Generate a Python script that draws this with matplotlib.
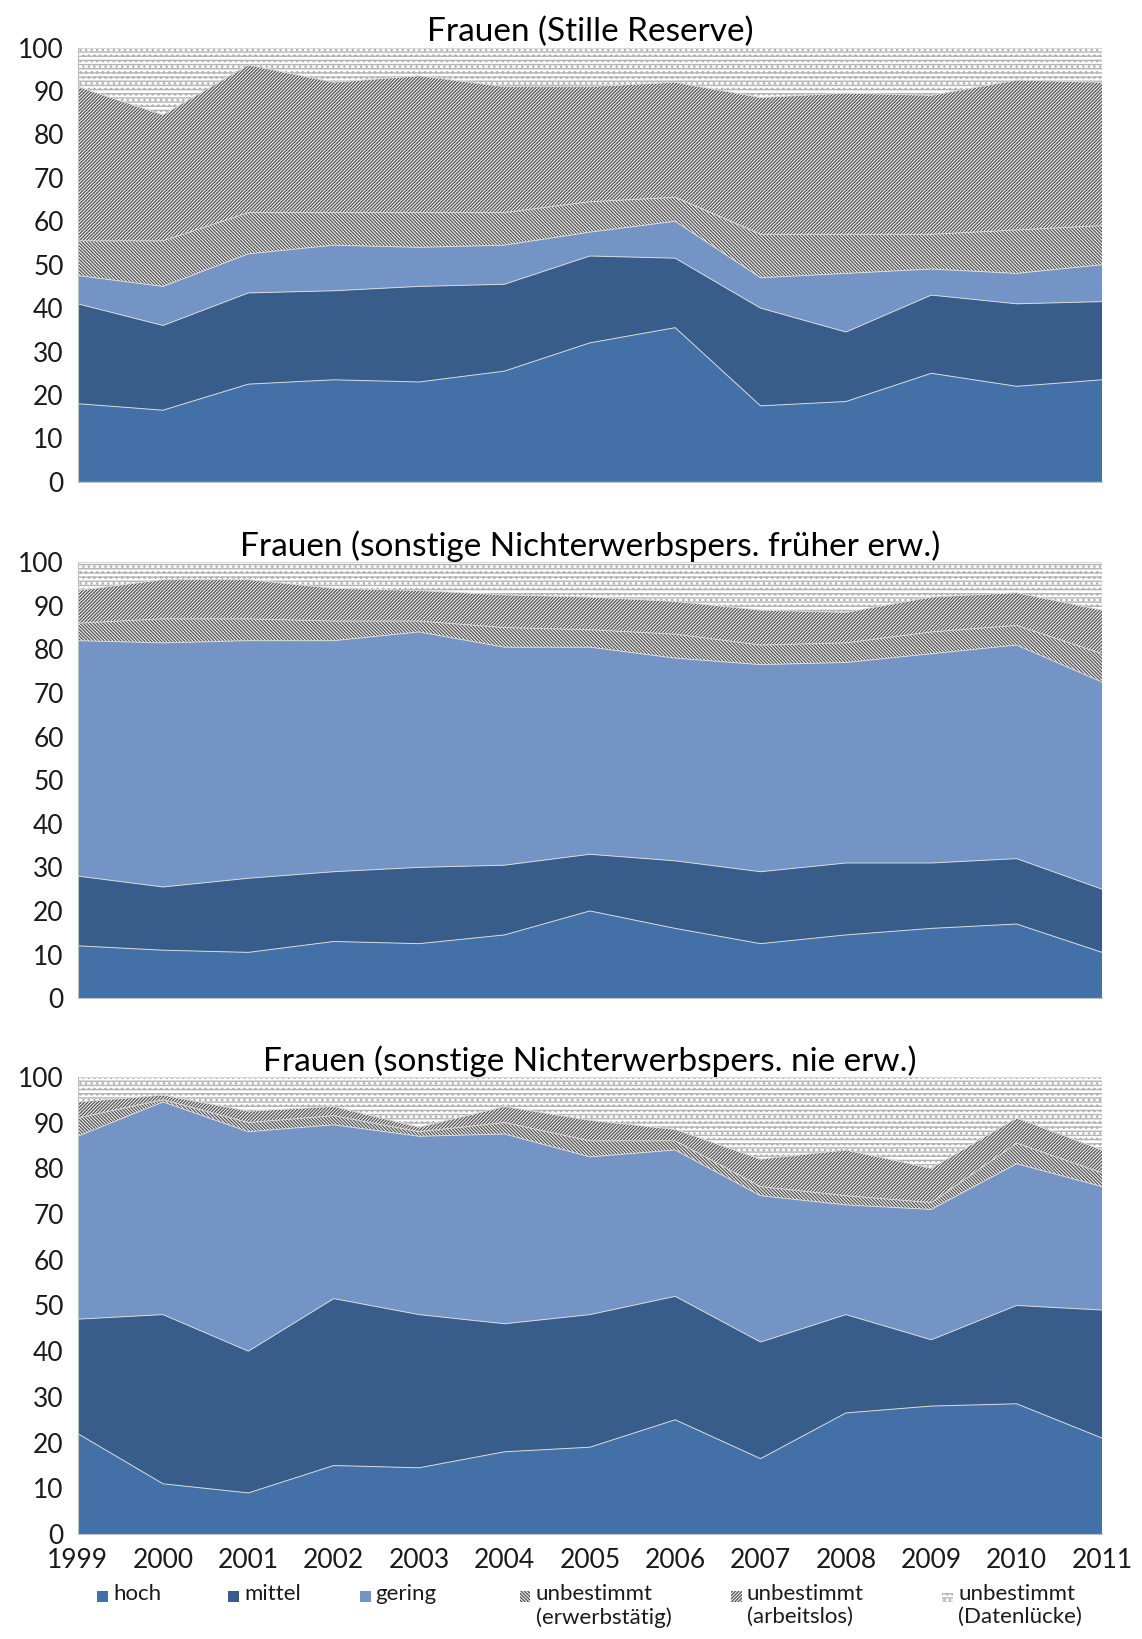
import numpy as np
import matplotlib
matplotlib.use("Agg")
import matplotlib.pyplot as plt
from matplotlib.patches import Rectangle

plt.rcParams['font.family'] = ['Lato', 'DejaVu Sans']
plt.rcParams['hatch.linewidth'] = 1.0

years = list(range(1999, 2012))

labels = ['hoch', 'mittel', 'gering', 'unbestimmt\n(erwerbstätig)',
          'unbestimmt\n(arbeitslos)', 'unbestimmt\n(Datenlücke)']

# Stille Reserve
sr_hoch = [18, 16.5, 22.5, 23.5, 23, 25.5, 32, 35.5, 17.5, 18.5, 25, 22, 23.5]
sr_mittel = [23, 19.5, 21, 20.5, 22, 20, 20, 16, 22.5, 16, 18, 19, 18]
sr_gering = [6.5, 9, 9, 10.5, 9, 9, 5.5, 8.5, 7, 13.5, 6, 7, 8.5]
sr_erwerb = [8, 10.5, 9.5, 7.5, 8, 7.5, 7, 5.5, 10, 9, 8, 10, 9]
sr_arblos = [35.5, 29, 34, 30, 31.5, 29, 26.5, 26.5, 31.5, 32.5, 32, 34.5, 33]
sr_luecke = [9, 15.5, 4, 8, 6.5, 9, 9, 8, 11.5, 10.5, 11, 7.5, 8]

# sonstige Nichterwerbspersonen, frueher erwerbstaetig
fr_hoch = [12, 11, 10.5, 13, 12.5, 14.5, 20, 16, 12.5, 14.5, 16, 17, 10.5]
fr_mittel = [16, 14.5, 17, 16, 17.5, 16, 13, 15.5, 16.5, 16.5, 15, 15, 14.5]
fr_gering = [54, 56, 54.5, 53, 54, 50, 47.5, 46.5, 47.5, 46, 48, 49, 47.5]
fr_erwerb = [4, 5.5, 5, 4.5, 2.5, 4.5, 4, 5.5, 4.5, 4.5, 5, 4.5, 6.5]
fr_arblos = [7.5, 9, 9, 7.5, 7, 7.5, 7.5, 7.5, 8, 7, 8, 7.5, 10]
fr_luecke = [6.5, 4, 4, 6, 6.5, 7.5, 8, 9, 11, 11.5, 8, 7, 11]

# sonstige Nichterwerbspersonen, nie erwerbstaetig
ne_hoch = [22, 11, 9, 15, 14.5, 18, 19, 25, 16.5, 26.5, 28, 28.5, 21]
ne_mittel = [25, 37, 31, 36.5, 33.5, 28, 29, 27, 25.5, 21.5, 14.5, 21.5, 28]
ne_gering = [40, 46.5, 48, 38, 39, 41.5, 34.5, 32, 32, 24, 28.5, 31, 27]
ne_erwerb = [4, 0.5, 2, 2, 1, 2.5, 3.5, 2, 2, 2, 1.5, 4.5, 3]
ne_arblos = [3.5, 1, 2.5, 2, 1, 3.5, 4.5, 2.5, 6, 10, 7.5, 5.5, 5]
ne_luecke = [5.5, 4, 7.5, 6.5, 11, 6.5, 9.5, 11.5, 18, 16, 20, 9, 16]

panels = [
    ('Frauen (Stille Reserve)',
     [sr_hoch, sr_mittel, sr_gering, sr_erwerb, sr_arblos, sr_luecke]),
    ('Frauen (sonstige Nichterwerbspers. früher erw.)',
     [fr_hoch, fr_mittel, fr_gering, fr_erwerb, fr_arblos, fr_luecke]),
    ('Frauen (sonstige Nichterwerbspers. nie erw.)',
     [ne_hoch, ne_mittel, ne_gering, ne_erwerb, ne_arblos, ne_luecke]),
]

# fill colour, hatch, hatch colour
styles = [
    ('#4470a8', None, None),
    ('#385d8a', None, None),
    ('#7394c5', None, None),
    ('white', '\\' * 10, '#5a5a5a'),
    ('white', '/' * 10, '#5a5a5a'),
    ('white', '-' * 4 + '.' * 3, '#b4b4b4'),
]

fig = plt.figure(figsize=(11.42, 16.39), dpi=100)
boxes = [(0.068, 0.706, 0.897, 0.265),
         (0.068, 0.391, 0.897, 0.266),
         (0.068, 0.064, 0.897, 0.279)]

for i, ((title, series), box) in enumerate(zip(panels, boxes)):
    ax = fig.add_axes(box)
    bottom = np.zeros(len(years))
    for vals, (fc, hatch, hc) in zip(series, styles):
        top = bottom + np.array(vals)
        if hatch is None:
            ax.fill_between(years, bottom, top, facecolor=fc, linewidth=0)
        else:
            ax.fill_between(years, bottom, top, facecolor=fc, hatch=hatch,
                            edgecolor=hc, linewidth=0)
        ax.plot(years, top, color='#d8d8d8', lw=0.7)
        bottom = top
    ax.set_xlim(1999, 2011)
    ax.set_ylim(0, 100)
    ax.set_yticks(range(0, 101, 10))
    ax.set_xticks(years)
    ax.tick_params(length=0, labelsize=19, colors='#1a1a1a', pad=10)
    for s in ('top', 'right'):
        ax.spines[s].set_visible(False)
    for s in ('left', 'bottom'):
        ax.spines[s].set_color('#bfbfbf')
    ax.set_title(title, fontsize=24, pad=3)
    if i < len(panels) - 1:
        ax.set_xticklabels([])

# legend row under the bottom panel
legend_x = [0.085, 0.200, 0.315, 0.455, 0.640, 0.825]
for x, (fc, hatch, hc), lab in zip(legend_x, styles, labels):
    fig.patches.append(Rectangle((x, 0.0225), 0.0095, 0.0068,
                                 transform=fig.transFigure, facecolor=fc,
                                 hatch=hatch, edgecolor=hc if hc else fc,
                                 linewidth=0))
    fig.text(x + 0.014, 0.0335, lab, fontsize=16, va='top', ha='left',
             linespacing=1.2, color='#1a1a1a')

fig.savefig('out.png', dpi=100, facecolor='white')
